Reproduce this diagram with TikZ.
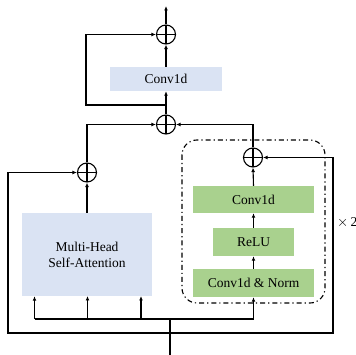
\documentclass[tikz,border=0pt]{standalone}
\usepackage{fontspec}
\setmainfont{Liberation Serif}
\usetikzlibrary{arrows.meta}
\definecolor{bluebox}{HTML}{DAE3F3}
\definecolor{greenbox}{HTML}{A9D18E}
\tikzset{
  arr/.style={-{Latex[length=4.5pt,width=3.8pt]}, line width=1.1pt},
  ln/.style={line width=1.1pt},
  sumnode/.style={circle, draw, line width=1.1pt, minimum size=19pt, inner sep=0pt,
    path picture={\draw[line width=1.1pt] (path picture bounding box.north) -- (path picture bounding box.south)
      (path picture bounding box.west) -- (path picture bounding box.east);}},
  bluebx/.style={fill=bluebox, draw=none, inner sep=0pt, font=\fontsize{13.5}{16}\selectfont, align=center},
  greenbx/.style={fill=greenbox, draw=none, inner sep=0pt, font=\fontsize{13.5}{16}\selectfont},
  lbl/.style={font=\fontsize{13.5}{16}\selectfont, inner sep=0pt},
  repbox/.style={draw, line width=1.1pt, dash pattern=on 5pt off 3pt on 1.2pt off 3pt, rounded corners=15pt}
}
\begin{document}
\begin{tikzpicture}[x=1pt,y=-1pt]
\useasboundingbox (0,0) rectangle (356,355);
% nodes
\node[sumnode] (sumT) at (166,34.5) {};
\node[bluebx, minimum width=112pt, minimum height=24pt] (convT) at (166,79) {Conv1d};
\node[sumnode] (sumM) at (166,124.5) {};
\node[sumnode] (sumL) at (87,172.5) {};
\node[sumnode] (sumR) at (253,157.5) {};
\node[bluebx, minimum width=130pt, minimum height=83pt] (mhsa) at (87,254.5) {Multi-Head\\Self-Attention};
\node[greenbx, minimum width=121pt, minimum height=27pt] (c1) at (253.5,199.5) {Conv1d};
\node[greenbx, minimum width=81pt, minimum height=28pt] (relu) at (253.5,242) {ReLU};
\node[greenbx, minimum width=121pt, minimum height=28pt] (cn) at (253.5,283) {Conv1d \& Norm};
\draw[repbox] (182,140) rectangle (325,303);
\node[lbl, anchor=west] (rep) at (337,223) {$\times$\,2};
% coordinates
\coordinate (out) at (166,6);
\coordinate (b1) at (166,105);
\coordinate (in) at (170,356);
\coordinate (jin) at (170,319);
\coordinate (jloop) at (170,333);
\coordinate (dl) at (34.5,319);
\coordinate (dr) at (253.5,319);
% connectors
\draw[arr] (sumT.north) -- (out);
\draw[arr] (convT.north) -- (sumT.south);
\draw[arr] (sumM.north) -- (convT.south);
\draw[arr] (b1) -- ++(-80,0) |- (sumT.west);
\draw[arr] (sumL.north) |- (sumM.west);
\draw[arr] (sumR.north) |- (sumM.east);
\draw[arr] (mhsa.north) -- (sumL.south);
\draw[arr] (c1.north) -- (sumR.south);
\draw[arr] (relu.north) -- (c1.south);
\draw[arr] (cn.north) -- (relu.south);
\draw[ln] (in) -- (jin);
\draw[ln] (dl) -- (dr);
\draw[arr] (dl) -- (dl |- mhsa.south);
\draw[arr] (87.5,319) -- (87.5,296);
\draw[arr] (141,319) -- (141,296);
\draw[arr] (dr) -- (cn.south);
\draw[arr] (jloop) -- (8,333) |- (sumL.west);
\draw[arr] (jloop) -- (333,333) |- (sumR.east);
\end{tikzpicture}
\end{document}
